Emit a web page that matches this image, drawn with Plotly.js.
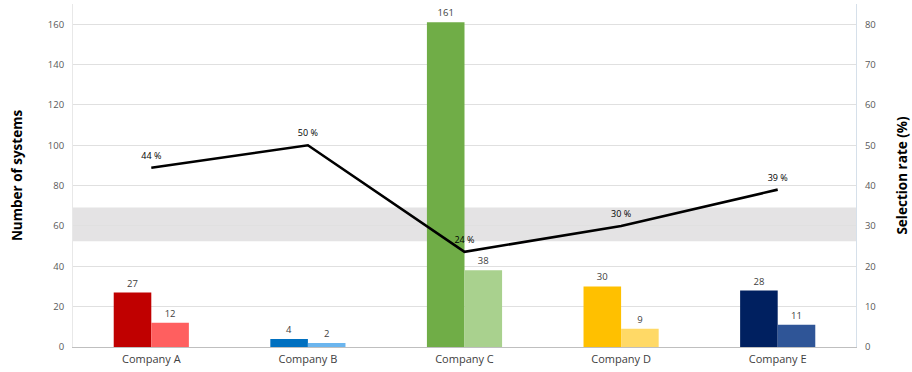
<!DOCTYPE html>
<html>
<head>
<meta charset="utf-8">
<script src="https://cdn.plot.ly/plotly-3.0.1.min.js"></script>
<style>html,body{margin:0;padding:0;background:#fff;}#chart{width:912px;height:372px;}</style>
</head>
<body>
<div id="chart"></div>
<script>
const categories = ["Company A", "Company B", "Company C", "Company D", "Company E"];
const systemsTotal = [27, 4, 161, 30, 28];
const systemsSelected = [12, 2, 38, 9, 11];
const selectionRate = [44.4, 50, 23.6, 30, 39];
const selectionRateLabels = ["44 %", "50 %", "24 %", "30 %", "39 %"];
const darkColors = ["#C00000", "#0070C0", "#70AD47", "#FFC000", "#002060"];
const lightColors = ["#FF5F5F", "#6BB5EE", "#A9D18E", "#FFD966", "#2F5597"];
const bandRange = [26.2, 34.6];

const FONT = "Open Sans, Liberation Sans, sans-serif";

const traces = [
  {
    type: "bar", x: categories, y: systemsTotal,
    marker: {color: darkColors},
    text: systemsTotal.map(String), textposition: "outside",
    textfont: {size: 9.5, color: "#404040", family: FONT},
    cliponaxis: false, hoverinfo: "skip"
  },
  {
    type: "bar", x: categories, y: systemsSelected,
    marker: {color: lightColors},
    text: systemsSelected.map(String), textposition: "outside",
    textfont: {size: 9.5, color: "#404040", family: FONT},
    cliponaxis: false, hoverinfo: "skip"
  },
  {
    type: "scatter", mode: "lines+markers+text", x: categories, y: selectionRate, yaxis: "y2",
    line: {color: "#000000", width: 2.6, shape: "linear"},
    marker: {size: 9, color: "rgba(0,0,0,0)"},
    text: selectionRateLabels, textposition: "top center",
    textfont: {size: 9, color: "#000000", family: FONT},
    cliponaxis: false, hoverinfo: "skip"
  }
];

const layout = {
  width: 912, height: 372,
  margin: {l: 73, r: 56, t: 4, b: 25},
  paper_bgcolor: "#ffffff", plot_bgcolor: "#ffffff",
  showlegend: false,
  barmode: "group", bargap: 0.52, bargroupgap: 0,
  font: {family: FONT, color: "#595959", size: 10},
  xaxis: {
    showgrid: false, showline: true, linecolor: "#bfbfbf", linewidth: 1,
    ticks: "", tickfont: {size: 11, color: "#404040"}, ticklabelstandoff: 2, fixedrange: true
  },
  yaxis: {
    range: [0, 170], tickvals: [0, 20, 40, 60, 80, 100, 120, 140, 160],
    showgrid: true, gridcolor: "#e0e0e0", gridwidth: 1,
    showline: true, linecolor: "#e8e8e8", zeroline: false,
    ticks: "", tickfont: {size: 9.5, color: "#595959"}, ticklabelstandoff: 6,
    title: {text: "Number of systems", font: {size: 13.5, color: "#000000", family: FONT, weight: "bold"}, standoff: 22},
    fixedrange: true
  },
  yaxis2: {
    range: [0, 85], tickvals: [0, 10, 20, 30, 40, 50, 60, 70, 80],
    overlaying: "y", side: "right", showgrid: false,
    showline: true, linecolor: "#d6e0ea", zeroline: false,
    ticks: "", tickfont: {size: 9.5, color: "#595959"}, ticklabelstandoff: 6,
    title: {text: "Selection rate (%)", font: {size: 13.5, color: "#000000", family: FONT, weight: "bold"}, standoff: 22},
    fixedrange: true
  },
  shapes: [{
    type: "rect", xref: "paper", yref: "y2", x0: 0, x1: 1,
    y0: bandRange[0], y1: bandRange[1],
    fillcolor: "#e4e3e4", line: {width: 0}, layer: "below"
  }]
};

Plotly.newPlot("chart", traces, layout, {displayModeBar: false, staticPlot: true});
</script>
</body>
</html>
